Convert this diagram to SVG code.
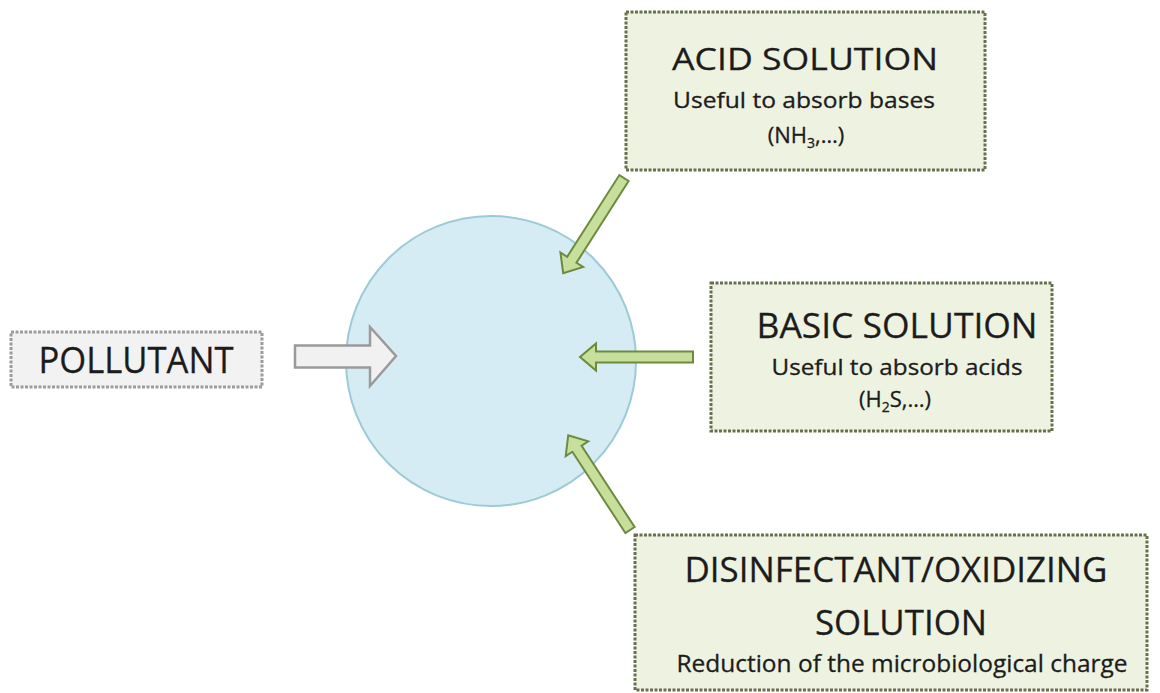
<svg xmlns="http://www.w3.org/2000/svg" xmlns:xlink="http://www.w3.org/1999/xlink" width="1160" height="693" viewBox="0 0 1160 693">
  <style>
    .box { fill: #eef3e1; stroke: #66704f; stroke-width: 3; stroke-dasharray: 3 1.5; }
    .pbox { fill: #f2f2f2; stroke: #9c9c9c; stroke-width: 3; stroke-dasharray: 3 1.5; }
    .t { font-family: "Open Sans", "Liberation Sans", sans-serif; fill: #1c1c1c; text-anchor: middle; stroke: #1c1c1c; stroke-width: 0.3; }
    .garrow { fill: #c6e09c; stroke: #6e8a3e; stroke-width: 2; stroke-linejoin: miter; }
    .parrow { fill: #f1f1f1; stroke: #9a9a9a; stroke-width: 2.5; }
  </style>
  <defs>
    <path id="ga" d="M0,-5.5 L97,-5.5 L97,-13.5 L113,0 L97,13.5 L97,5.5 L0,5.5 Z"/>
  </defs>
  <rect width="1160" height="693" fill="#ffffff"/>

  <g id="absorber">
    <circle cx="491" cy="361" r="145" fill="#d6ecf4" stroke="#9ccad6" stroke-width="2"/>
  </g>

  <g id="pollutant">
    <rect class="pbox" x="11" y="332" width="251" height="55"/>
    <text class="t" x="136" y="373" font-size="36" textLength="195" lengthAdjust="spacingAndGlyphs">POLLUTANT</text>
  </g>

  <g id="acid-solution">
    <rect class="box" x="626" y="12" width="359" height="158"/>
    <text class="t" x="805" y="70" font-size="31" textLength="266" lengthAdjust="spacingAndGlyphs">ACID SOLUTION</text>
    <text class="t" x="804" y="108" font-size="22" textLength="262" lengthAdjust="spacingAndGlyphs">Useful to absorb bases</text>
    <text class="t" x="806" y="143" font-size="22">(NH<tspan font-size="14" dy="5">3</tspan><tspan dy="-5">,…)</tspan></text>
  </g>

  <g id="basic-solution">
    <rect class="box" x="711" y="283" width="341" height="148"/>
    <text class="t" x="897" y="338" font-size="34" textLength="281" lengthAdjust="spacingAndGlyphs">BASIC SOLUTION</text>
    <text class="t" x="897" y="375" font-size="21" textLength="251" lengthAdjust="spacingAndGlyphs">Useful to absorb acids</text>
    <text class="t" x="895" y="407" font-size="22">(H<tspan font-size="14" dy="5">2</tspan><tspan dy="-5">S,…)</tspan></text>
  </g>

  <g id="disinfectant-solution">
    <rect class="box" x="635" y="535" width="512" height="155"/>
    <text class="t" x="896" y="582" font-size="35" textLength="423" lengthAdjust="spacingAndGlyphs">DISINFECTANT/OXIDIZING</text>
    <text class="t" x="901" y="635" font-size="35" textLength="172" lengthAdjust="spacingAndGlyphs">SOLUTION</text>
    <text class="t" x="902" y="672" font-size="24" textLength="451" lengthAdjust="spacingAndGlyphs">Reduction of the microbiological charge</text>
  </g>

  <g id="connectors">
    <path class="parrow" d="M295,345.5 L370,345.5 L370,327 L396,356 L370,386 L370,367.5 L295,367.5 Z"/>
    <use xlink:href="#ga" class="garrow" transform="translate(624,178) rotate(122.55)"/>
    <use xlink:href="#ga" class="garrow" transform="translate(693,357) rotate(180)"/>
    <use xlink:href="#ga" class="garrow" transform="translate(630,530) rotate(-123.13)"/>
  </g>
</svg>
